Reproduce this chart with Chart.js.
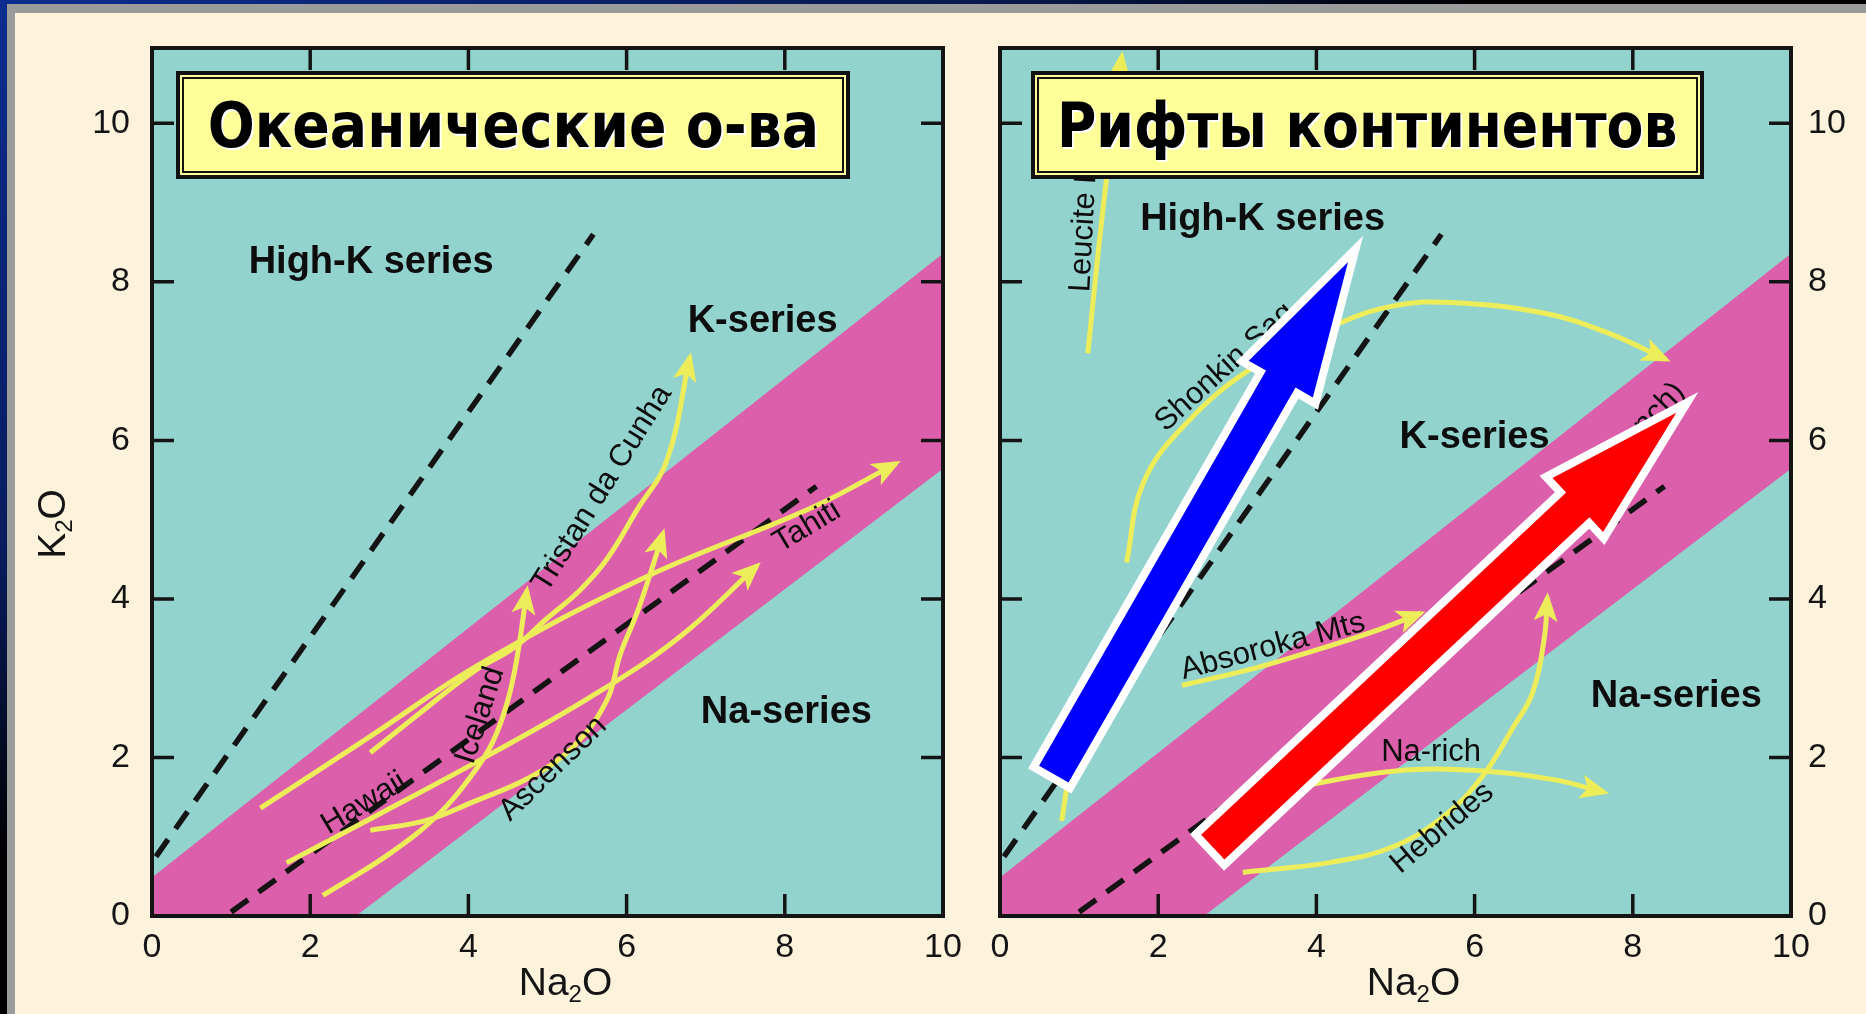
<!DOCTYPE html>
<html lang="ru">
<head>
<meta charset="UTF-8">
<title>K2O – Na2O: океанические острова и континентальные рифты</title>
<script src="https://cdn.jsdelivr.net/npm/chart.js"></script>
<style>
  html, body { margin: 0; padding: 0; }
  body {
    width: 1866px; height: 1014px; position: relative; overflow: hidden;
    background: #fdf2db; font-family: 'Liberation Sans', Arial, sans-serif;
  }
  .bar-top { position: absolute; left: 0; top: 0; width: 1866px; height: 4px;
    background: linear-gradient(to right, #0b2d8f, #07184a 55%, #000 80%); }
  .bar-left { position: absolute; left: 0; top: 0; width: 7px; height: 1014px;
    background: linear-gradient(#0b2d8f, #081c5c 55%, #000 85%); }
  .gray-top { position: absolute; left: 7px; top: 4px; width: 1859px; height: 9px; background: #9b9b9b; }
  .gray-left { position: absolute; left: 7px; top: 4px; width: 8px; height: 1010px; background: #9b9b9b; }
  canvas { position: absolute; top: 0; }
  #leftChart { left: 0; }
  #rightChart { left: 975px; }
  .title {
    position: absolute; top: 71px; height: 108px; box-sizing: border-box;
    background: #ffff99; border: 4px solid #111;
    box-shadow: inset 0 0 0 2px #ffff99, inset 0 0 0 4px #111;
    display: flex; align-items: center; justify-content: center;
  }
  .title span {
    display: inline-block; white-space: nowrap;
    font-family: 'DejaVu Sans', sans-serif; font-weight: bold; font-size: 62px; color: #000;
    text-shadow: 2px 2px 0 #fff, 1px 1px 0 #fff;
  }
</style>
</head>
<body>
<div class="bar-top"></div>
<div class="bar-left"></div>
<div class="gray-top"></div>
<div class="gray-left"></div>

<canvas id="leftChart" width="975" height="1014"></canvas>
<canvas id="rightChart" width="891" height="1014"></canvas>

<div class="title" style="left:176px; width:674px;"><span data-w="612">Океанические о-ва</span></div>
<div class="title" style="left:1031px; width:673px;"><span data-w="620">Рифты континентов</span></div>

<script>
// оси
const xTicks = [0, 2, 4, 6, 8, 10];
const yTicks = [0, 2, 4, 6, 8, 10];
const yMax = 10.95;

// поле K-серии (розовая полоса) и пунктирные границы
const bandUpper = [[0, 0.48], [2.57, 2.5], [10, 8.35]];
const bandLower = [[0, 0], [2.57, 0], [10, 5.65]];
const dashHighK = [[0.05, 0.75], [5.58, 8.6]];
const dashNaK = [[1.0, 0.05], [8.4, 5.42]];

// океанические острова
const tahiti = [[1.37, 1.36], [2.75, 2.26], [4.15, 3.18], [6.25, 4.28], [8.36, 5.16], [9.41, 5.71]];
const tristan = [[2.76, 2.06], [3.4, 2.57], [4.06, 3.08], [4.57, 3.38], [4.99, 3.75], [5.4, 4.1], [5.75, 4.5], [6.13, 5.12], [6.51, 5.75], [6.8, 7.05]];
const hawaii = [[1.7, 0.67], [2.9, 1.3], [4.15, 1.97], [5.54, 2.76], [6.67, 3.52], [7.65, 4.42]];
const iceland = [[2.16, 0.26], [3.01, 0.79], [3.64, 1.3], [4.06, 1.8], [4.31, 2.2], [4.49, 2.69], [4.61, 3.23], [4.74, 4.11]];
const ascension = [[2.76, 1.08], [3.48, 1.21], [4.06, 1.44], [4.78, 1.75], [5.32, 2.13], [5.75, 2.72], [5.92, 3.3], [6.13, 3.82], [6.3, 4.32], [6.46, 4.83]];

// континентальные рифты
const leucite = [[1.11, 7.1], [1.3, 8.9], [1.54, 10.85]];
const highwood = [[0.78, 1.2], [0.88, 1.8], [1.05, 2.4]];
const shonkin = [[1.6, 4.46], [1.81, 5.46], [2.36, 6.22], [3.2, 6.92], [4.3, 7.48], [5.0, 7.7], [5.7, 7.74], [6.9, 7.6], [7.7, 7.35], [8.42, 7.02]];
const absaroka = [[2.3, 2.91], [3.2, 3.12], [3.98, 3.35], [4.7, 3.58], [5.32, 3.82]];
const naRich = [[3.7, 1.62], [5.0, 1.83], [6.1, 1.83], [7.0, 1.72], [7.64, 1.56]];
const hebrides = [[3.07, 0.55], [4.2, 0.68], [4.96, 0.87], [5.6, 1.25], [6.09, 1.75], [6.5, 2.4], [6.73, 2.81], [6.88, 3.5], [6.92, 4.02]];

// большие стрелки (хвост, остриё)
const blueArrow = [[0.68, 1.79], [4.4, 8.25]];
const redArrow = [[2.69, 0.87], [8.55, 6.35]];

// подписи
const leftTexts = [
  { text: 'High-K series', x: 2.77, y: 8.25, bold: true },
  { text: 'K-series', x: 7.72, y: 7.5, bold: true },
  { text: 'Na-series', x: 8.02, y: 2.57, bold: true },
  { text: 'Tristan da Cunha', x: 5.69, y: 5.39, angle: -58 },
  { text: 'Hawaii', x: 2.68, y: 1.42, angle: -31 },
  { text: 'Iceland', x: 4.15, y: 2.53, angle: -72 },
  { text: 'Ascenson', x: 5.07, y: 1.86, angle: -44 },
  { text: 'Tahiti', x: 8.28, y: 4.91, angle: -31 }
];
const rightTexts = [
  { text: 'High-K series', x: 3.32, y: 8.78, bold: true },
  { text: 'K-series', x: 6.0, y: 6.04, bold: true },
  { text: 'Na-series', x: 8.55, y: 2.77, bold: true },
  { text: 'Leucite Hills', x: 1.02, y: 7.87, angle: -87, align: 'left' },
  { text: 'Shonkin Sag', x: 2.02, y: 6.18, angle: -42, align: 'left' },
  { text: 'Absoroka Mts', x: 3.45, y: 3.4, angle: -15 },
  { text: 'Gregory Rift (K-branch)', x: 8.6, y: 6.67, angle: -46, align: 'right' },
  { text: 'Na-rich', x: 5.45, y: 2.06, angle: 0 },
  { text: 'Hebrides', x: 5.59, y: 1.11, angle: -40 }
];

const TEAL = '#93d3ce';
const PINK = '#dc5fac';
const YELLOW = '#eded5a';
const INK = '#141414';

const pts = a => a.map(p => ({ x: p[0], y: p[1] }));

function curve(data, arrow) {
  return { data: pts(data), showLine: true, borderColor: YELLOW, borderWidth: 5, pointRadius: 0,
           tension: 0.4, fill: false, order: 1, arrow: arrow };
}
function dashed(data) {
  return { data: pts(data), showLine: true, borderColor: INK, borderWidth: 5.5, borderDash: [21, 13],
           pointRadius: 0, fill: false, order: 2 };
}
function band() {
  return [
    { data: pts(bandUpper), showLine: true, borderColor: PINK, borderWidth: 1, pointRadius: 0,
      backgroundColor: PINK, fill: '+1', order: 3 },
    { data: pts(bandLower), showLine: true, borderColor: PINK, borderWidth: 1, pointRadius: 0,
      fill: false, order: 3 }
  ];
}

// формула с нижним индексом, например K₂O
function formula(ctx, a, sub, b, x, y, size, rot) {
  ctx.save();
  ctx.translate(x, y);
  if (rot) ctx.rotate(rot);
  const big = size + 'px "Liberation Sans", Arial, sans-serif';
  const small = Math.round(size * 0.62) + 'px "Liberation Sans", Arial, sans-serif';
  ctx.font = big; const wa = ctx.measureText(a).width, wb = ctx.measureText(b).width;
  ctx.font = small; const ws = ctx.measureText(sub).width;
  let cx = -(wa + ws + wb) / 2;
  ctx.fillStyle = INK; ctx.textBaseline = 'middle'; ctx.textAlign = 'left';
  ctx.font = big; ctx.fillText(a, cx, 0); cx += wa;
  ctx.font = small; ctx.fillText(sub, cx, size * 0.3); cx += ws;
  ctx.font = big; ctx.fillText(b, cx, 0);
  ctx.restore();
}

function bigArrow(ctx, x0, y0, x1, y1, color) {
  const len = Math.hypot(x1 - x0, y1 - y0);
  const ux = (x1 - x0) / len, uy = (y1 - y0) / len, nx = -uy, ny = ux;
  const s = 17, h = 37, L = 135;
  const bx = x1 - ux * L, by = y1 - uy * L;
  const p = [[x0 + nx * s, y0 + ny * s], [bx + nx * s, by + ny * s], [bx + nx * h, by + ny * h], [x1, y1],
             [bx - nx * h, by - ny * h], [bx - nx * s, by - ny * s], [x0 - nx * s, y0 - ny * s]];
  ctx.beginPath();
  p.forEach((q, i) => i ? ctx.lineTo(q[0], q[1]) : ctx.moveTo(q[0], q[1]));
  ctx.closePath();
  ctx.lineJoin = 'miter'; ctx.miterLimit = 10;
  ctx.lineWidth = 16; ctx.strokeStyle = '#fff'; ctx.stroke();
  ctx.fillStyle = color; ctx.fill();
}

function panelPlugin(cfg) {
  return {
    id: 'panel',
    beforeDatasetsDraw(chart) {
      const { ctx, chartArea: a } = chart;
      ctx.save();
      ctx.fillStyle = TEAL;
      ctx.fillRect(a.left, a.top, a.width, a.height);
      ctx.restore();
    },
    afterDatasetsDraw(chart) {
      const { ctx, chartArea: a, scales: { x, y } } = chart;
      ctx.save();
      ctx.beginPath(); ctx.rect(a.left, a.top, a.width, a.height); ctx.clip();

      // наконечники жёлтых стрелок
      chart.data.datasets.forEach((ds, i) => {
        if (!ds.arrow) return;
        const els = chart.getDatasetMeta(i).data;
        const e = els[els.length - 1];
        const prev = (e.cp1x !== undefined && e.cp1x !== null) ? { x: e.cp1x, y: e.cp1y } : els[els.length - 2];
        const ang = Math.atan2(e.y - prev.y, e.x - prev.x);
        ctx.save();
        ctx.translate(e.x, e.y); ctx.rotate(ang);
        ctx.fillStyle = YELLOW;
        ctx.beginPath(); ctx.moveTo(5, 0); ctx.lineTo(-24, -12); ctx.lineTo(-17, 0); ctx.lineTo(-24, 12);
        ctx.closePath(); ctx.fill();
        ctx.restore();
      });

      // подписи
      cfg.texts.forEach(t => {
        ctx.save();
        ctx.translate(x.getPixelForValue(t.x), y.getPixelForValue(t.y));
        ctx.rotate((t.angle || 0) * Math.PI / 180);
        ctx.font = t.bold ? 'bold 38px "Liberation Sans", Arial, sans-serif' : '31px "Liberation Sans", Arial, sans-serif';
        ctx.fillStyle = '#0d0d0d';
        ctx.textAlign = t.align || 'center';
        ctx.textBaseline = 'middle';
        ctx.fillText(t.text, 0, 0);
        ctx.restore();
      });

      // большие стрелки
      cfg.arrows.forEach(ar => {
        bigArrow(ctx, x.getPixelForValue(ar.pts[0][0]), y.getPixelForValue(ar.pts[0][1]),
                 x.getPixelForValue(ar.pts[1][0]), y.getPixelForValue(ar.pts[1][1]), ar.color);
      });
      ctx.restore();

      // рамка и внутренние засечки
      ctx.save();
      ctx.strokeStyle = INK;
      ctx.lineWidth = 4;
      ctx.strokeRect(a.left, a.top, a.width, a.height);
      ctx.lineWidth = 3.5;
      ctx.beginPath();
      xTicks.slice(1, -1).forEach(v => {
        const px = x.getPixelForValue(v);
        ctx.moveTo(px, a.bottom); ctx.lineTo(px, a.bottom - 22);
        ctx.moveTo(px, a.top); ctx.lineTo(px, a.top + 22);
      });
      yTicks.slice(1).forEach(v => {
        const py = y.getPixelForValue(v);
        ctx.moveTo(a.left, py); ctx.lineTo(a.left + 22, py);
        ctx.moveTo(a.right, py); ctx.lineTo(a.right - 22, py);
      });
      ctx.stroke();
      ctx.restore();

      // подписи осей
      const cx = (a.left + a.right) / 2 + 18;
      formula(ctx, 'Na', '2', 'O', cx, a.bottom + 68, 39);
      if (cfg.side === 'left') formula(ctx, 'K', '2', 'O', a.left - 98, (a.top + a.bottom) / 2 + 42, 39, -Math.PI / 2);
    }
  };
}

function makeChart(id, side, datasets, texts, arrows) {
  const tickFont = { family: '"Liberation Sans", Arial, sans-serif', size: 34 };
  return new Chart(document.getElementById(id), {
    type: 'scatter',
    data: { datasets: datasets },
    options: {
      responsive: false,
      animation: false,
      events: [],
      layout: { padding: side === 'left' ? { top: 48, right: 32 } : { top: 48, left: 25 } },
      plugins: { legend: { display: false }, tooltip: { enabled: false } },
      scales: {
        x: {
          type: 'linear', position: 'bottom', min: 0, max: 10,
          afterBuildTicks: s => { s.ticks = xTicks.map(v => ({ value: v })); },
          afterFit: s => { s.height = 98; },
          grid: { display: false }, border: { display: false },
          ticks: { font: tickFont, color: INK, padding: 3, maxRotation: 0, autoSkip: false }
        },
        y: {
          type: 'linear', position: side, min: 0, max: yMax,
          afterBuildTicks: s => { s.ticks = yTicks.map(v => ({ value: v })); },
          afterFit: s => { s.width = side === 'left' ? 152 : 75; },
          grid: { display: false }, border: { display: false },
          ticks: { font: tickFont, color: INK, padding: side === 'left' ? 14 : 9, autoSkip: false }
        }
      }
    },
    plugins: [panelPlugin({ side: side, texts: texts, arrows: arrows })]
  });
}

makeChart('leftChart', 'left', [
  ...band(),
  dashed(dashHighK), dashed(dashNaK),
  curve(tahiti, true), curve(tristan, true), curve(hawaii, true),
  curve(iceland, true), curve(ascension, true)
], leftTexts, []);

makeChart('rightChart', 'right', [
  ...band(),
  dashed(dashHighK), dashed(dashNaK),
  curve(leucite, true), curve(highwood, false), curve(shonkin, true),
  curve(absaroka, true), curve(naRich, true), curve(hebrides, true)
], rightTexts, [
  { pts: blueArrow, color: '#0000ff' },
  { pts: redArrow, color: '#ff0000' }
]);

// подогнать ширину заголовков
document.querySelectorAll('.title span').forEach(sp => {
  const k = Number(sp.dataset.w) / sp.offsetWidth;
  sp.style.transform = 'scaleX(' + k.toFixed(3) + ')';
});
</script>
</body>
</html>
